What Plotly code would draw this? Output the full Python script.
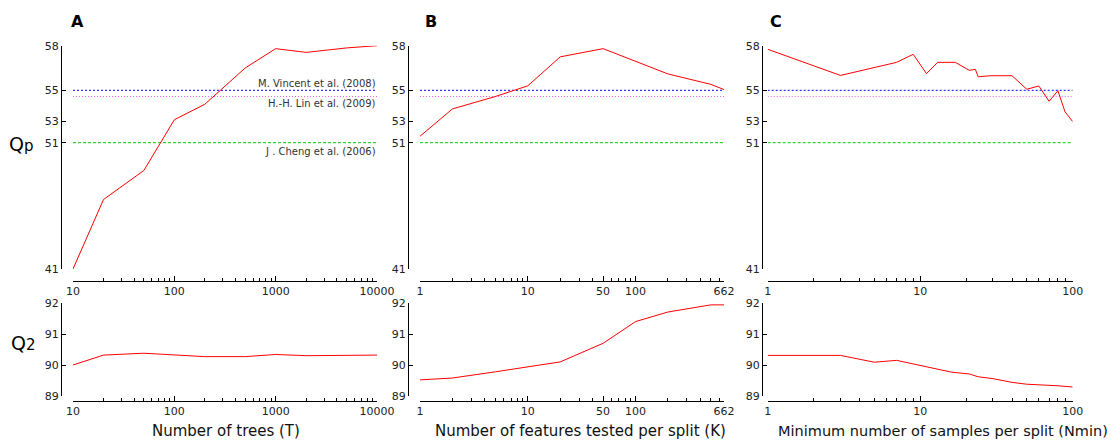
import numpy as np
import plotly.graph_objects as go

# the page body adds an 8px margin, so the figure is 8px smaller than the window
OFF = 8
W, H = 1115 - OFF, 441 - OFF

# ---------------- data ----------------
trees = [10, 20, 50, 100, 200, 500, 1000, 2000, 5000, 10000]
trees_qp = [41.0, 46.5, 48.8, 53.1, 54.1, 56.5, 57.8, 57.55, 57.85, 58.0]
trees_q2 = [90.0, 90.32, 90.38, 90.32, 90.27, 90.27, 90.34, 90.30, 90.30, 90.32]

feats_top = [1, 2, 5, 10, 20, 50, 200, 500, 662]
feats_qp = [51.6, 53.8, 54.6, 55.3, 57.25, 57.8, 56.1, 55.4, 55.05]
feats_bot = [1, 2, 5, 10, 20, 50, 100, 200, 500, 662]
feats_q2 = [89.52, 89.58, 89.78, 89.95, 90.10, 90.70, 91.40, 91.71, 91.94, 91.94]

nmin_top = [1, 3, 7, 9, 11, 13, 17, 21, 23, 24, 29, 40, 50, 60, 70, 80, 89, 100]
nmin_qp = [57.76, 56.0, 56.88, 57.42, 56.12, 56.88, 56.88, 56.34, 56.41, 55.91,
           55.98, 55.98, 55.07, 55.29, 54.29, 54.97, 53.62, 52.97]
nmin_bot = [1, 3, 5, 7, 16, 21, 24, 30, 40, 50, 80, 100]
nmin_q2 = [90.31, 90.31, 90.09, 90.15, 89.77, 89.71, 89.62, 89.56, 89.44, 89.38, 89.33, 89.29]

refs = ["M. Vincent et al. (2008)", "H.-H. Lin et al. (2009)", "J . Cheng et al. (2006)"]
ref_vals = [55.0, 54.6, 51.0]

qp_ticks = [41, 51, 53, 55, 58]
q2_ticks = [89, 90, 91, 92]

# the Qp axis in the original has unevenly spaced labels
qp_tick_pos = [0.0, 0.5656, 0.6614, 0.8003, 1.0]


def qp_axis(v):
    return np.interp(v, qp_ticks, qp_tick_pos)


# ---------------- layout helpers ----------------
def px_x(p):
    return (p - OFF) / W


def px_y(p):
    return 1 - (p - OFF) / H


panels = [
    dict(xdom=(73, 377), yax=61, xr=[1, 4], ticks=[10, 100, 1000, 10000],
         minor=[m * 10 ** d for d in (1, 2, 3) for m in range(2, 10)]),
    dict(xdom=(420, 724), yax=408, xr=[0, np.log10(662)], ticks=[1, 10, 50, 100, 662],
         minor=[m * 10 ** d for d in (0, 1, 2) for m in range(2, 10) if m * 10 ** d < 662]),
    dict(xdom=(767.7, 1072.7), yax=762, xr=[0, 2], ticks=[1, 10, 100],
         minor=[m * 10 ** d for d in (0, 1) for m in range(2, 10)]),
]
top_dom = (px_y(269), px_y(45.7))
bot_dom = (px_y(396), px_y(303))
top_xpos = px_y(281)
bot_xpos = px_y(401)

FONT = "DejaVu Sans"
tickfont = dict(family=FONT, size=11, color="#222")

fig = go.Figure()
layout = {}

series_top = [(trees, trees_qp), (feats_top, feats_qp), (nmin_top, nmin_qp)]
series_bot = [(trees, trees_q2), (feats_bot, feats_q2), (nmin_bot, nmin_q2)]

for i, p in enumerate(panels):
    ti = 2 * i + 1
    bi = 2 * i + 2
    xd = [px_x(p["xdom"][0]), px_x(p["xdom"][1])]
    for n, ydom, xpos in [(ti, top_dom, top_xpos), (bi, bot_dom, bot_xpos)]:
        layout[f"xaxis{n}"] = dict(
            domain=xd, anchor="free", position=xpos, type="log", range=p["xr"],
            tickvals=p["ticks"], ticktext=[str(t) for t in p["ticks"]],
            ticks="inside", ticklen=5, tickcolor="black", tickwidth=1,
            minor=dict(tickvals=p["minor"], ticks="inside", ticklen=3,
                       tickcolor="black", tickwidth=1, showgrid=False),
            showline=True, linecolor="black", linewidth=1,
            showgrid=False, zeroline=False, tickfont=tickfont,
        )
    layout[f"yaxis{ti}"] = dict(
        domain=list(top_dom), anchor="free", position=px_x(p["yax"]),
        range=[0, 1], tickvals=qp_tick_pos, ticktext=[str(t) for t in qp_ticks],
        ticks="inside", ticklen=4, tickcolor="black",
        showline=True, linecolor="black", linewidth=1,
        showgrid=False, zeroline=False, tickfont=tickfont,
    )
    layout[f"yaxis{bi}"] = dict(
        domain=list(bot_dom), anchor="free", position=px_x(p["yax"]),
        range=[89, 92], tickvals=q2_ticks, ticks="inside", ticklen=4,
        tickcolor="black", showline=True, linecolor="black", linewidth=1,
        showgrid=False, zeroline=False, tickfont=tickfont,
    )

    # reference lines
    xe = [10 ** p["xr"][0], 10 ** p["xr"][1]]
    styles = [dict(color="#0000ff", dash="2px,2px", width=1),
              dict(color="#ee66ee", dash="1px,2px", width=1),
              dict(color="#00cc00", dash="3px,2px", width=1)]
    for v, st in zip(ref_vals, styles):
        fig.add_trace(go.Scatter(x=xe, y=qp_axis([v, v]), mode="lines", line=st,
                                 xaxis=f"x{ti}", yaxis=f"y{ti}",
                                 showlegend=False, hoverinfo="skip"))

    xs, ys = series_top[i]
    fig.add_trace(go.Scatter(x=xs, y=qp_axis(ys), mode="lines",
                             line=dict(color="#ff0000", width=1),
                             xaxis=f"x{ti}", yaxis=f"y{ti}", showlegend=False))
    xs, ys = series_bot[i]
    fig.add_trace(go.Scatter(x=xs, y=ys, mode="lines",
                             line=dict(color="#ff0000", width=1),
                             xaxis=f"x{bi}", yaxis=f"y{bi}", showlegend=False))

annotations = []
# panel letters
for lab, xp in zip(["A", "B", "C"], [77, 431, 776]):
    annotations.append(dict(text=f"<b>{lab}</b>", x=px_x(xp), y=px_y(21), xref="paper",
                            yref="paper", xanchor="center", yanchor="middle", showarrow=False,
                            font=dict(family=FONT, size=16, color="black")))
# reference labels (panel A)
for txt, yp in zip(refs, [83, 104, 151]):
    annotations.append(dict(text=txt, x=px_x(378), y=px_y(yp), xref="paper", yref="paper",
                            xanchor="right", yanchor="middle", showarrow=False,
                            font=dict(family=FONT, size=10, color="#333")))
# y titles
annotations.append(dict(text="Q<span style='font-size:15px'>p</span>", x=px_x(21),
                        y=px_y(144), xref="paper", yref="paper", xanchor="center",
                        yanchor="middle", showarrow=False,
                        font=dict(family=FONT, size=19, color="black")))
annotations.append(dict(text="Q<span style='font-size:15px'>2</span>", x=px_x(23),
                        y=px_y(343), xref="paper", yref="paper", xanchor="center",
                        yanchor="middle", showarrow=False,
                        font=dict(family=FONT, size=19, color="black")))
# x titles
for txt, xp, fs in zip(["Number of trees (T)", "Number of features tested per split (K)",
                        "Minimum number of samples per split (Nmin)"],
                       [226, 580, 943], [15, 15, 14.5]):
    annotations.append(dict(text=txt, x=px_x(xp), y=px_y(431), xref="paper", yref="paper",
                            xanchor="center", yanchor="middle", showarrow=False,
                            font=dict(family=FONT, size=fs, color="#111")))

fig.update_layout(
    width=W, height=H, margin=dict(l=0, r=0, t=0, b=0, autoexpand=False),
    plot_bgcolor="white", paper_bgcolor="white",
    annotations=annotations, **layout,
)

fig.write_html("out.html")
